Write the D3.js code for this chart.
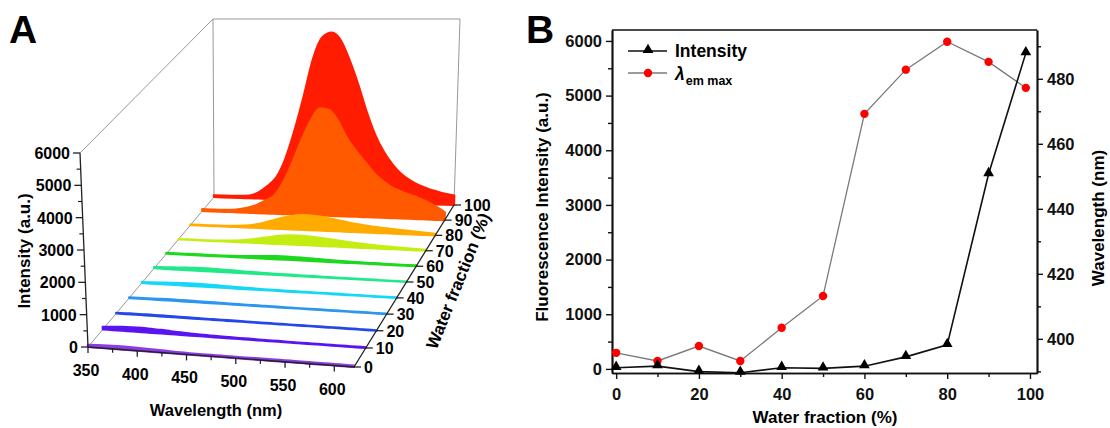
<!DOCTYPE html>
<html>
<head>
<meta charset="utf-8">
<script src="https://cdn.jsdelivr.net/npm/d3@7"></script>
<style>
body { margin: 0; background: #fff; }
svg { font-family: "Liberation Sans", Arial, sans-serif; font-weight: bold; }
</style>
</head>
<body>
<svg id="chart" width="1110" height="428"></svg>
<script>
// ---------- panel A data: emission spectra per water fraction ----------
var wavelengths = [350,360,370,380,390,400,410,420,430,440,450,460,470,480,490,500,510,520,530,540,550,560,570,580,590,600,610,620];
var waterFractions = [0,10,20,30,40,50,60,70,80,90,100];
var traceColors = ["#8c3ce6","#5a14f0","#2448e8","#2a96f0","#14d8f5","#22e88a","#1ed81e","#c4ee12","#ffab00","#ff5a00","#ff1c00"];

var spectrum0   = [70,80,90,95,95,90,80,70,60,50,45,40,40,40,40,40,40,45,45,45,45,45,45,45,45,45,45,45];
var spectrum10  = [80,100,120,130,130,120,110,90,75,60,50,45,40,35,30,30,25,25,25,20,20,20,20,20,20,20,20,20];
var spectrum20  = [20,25,30,30,30,30,30,25,25,20,20,20,20,20,15,15,15,15,15,15,15,15,15,15,15,15,15,15];
var spectrum30  = [20,25,30,35,40,40,40,35,30,30,25,25,20,20,20,20,15,15,15,15,15,15,15,15,15,15,15,15];
var spectrum40  = [30,40,50,60,70,80,80,75,65,55,45,40,35,30,30,25,25,20,20,20,20,20,15,15,15,15,15,15];
var spectrum50  = [40,50,60,70,80,90,90,80,70,60,50,45,40,35,30,30,25,25,20,20,20,20,15,15,15,15,15,15];
var spectrum60  = [30,30,30,30,30,30,30,35,45,60,75,90,100,100,95,85,75,65,55,45,40,35,30,30,25,25,25,25];
var spectrum70  = [10,10,10,10,15,25,40,70,110,160,210,260,290,300,290,270,240,210,180,150,125,105,90,75,60,50,40,30];
var spectrum80  = [20,20,20,20,25,40,60,100,170,260,350,420,470,480,460,420,370,320,270,230,200,170,150,130,110,90,70,50];
var spectrum90  = [60,60,60,70,100,160,260,420,600,1050,1700,2450,3100,3500,3450,3100,2550,2150,1800,1450,1200,1000,880,780,680,570,420,250];
var spectrum100 = [60,60,60,70,90,200,420,720,1350,2300,3450,4700,5400,5550,5300,4650,3850,2950,2200,1650,1250,950,750,600,500,420,350,300];
var spectra = [spectrum0,spectrum10,spectrum20,spectrum30,spectrum40,spectrum50,spectrum60,spectrum70,spectrum80,spectrum90,spectrum100];

var intensityTicksA = [0,1000,2000,3000,4000,5000,6000];
var intensityMinorA = [500,1500,2500,3500,4500,5500];
var wavelengthTicksA = [350,400,450,500,550,600];
var wavelengthMinorA = [375,425,475,525,575];
var waterTicksA = [0,10,20,30,40,50,60,70,80,90,100];

// ---------- panel B data ----------
var waterB = [0,10,20,30,40,50,60,70,80,90,99];
var intensityB = [20,50,-50,-70,20,10,50,220,440,3565,5777];
var lambdaB = [395.7,393.2,397.8,393.2,403.4,413.2,469.2,482.8,491.4,485.2,477.2];

var waterTicksB = [0,20,40,60,80,100];
var waterMinorB = [10,30,50,70,90];
var intensityTicksB = [0,1000,2000,3000,4000,5000,6000];
var intensityMinorB = [500,1500,2500,3500,4500,5500];
var lambdaTicksB = [400,420,440,460,480];
var lambdaMinorB = [390,410,430,450,470,490];

var svg = d3.select("#chart");

// ================= Panel A : 3D waterfall =================
var gA = svg.append("g");

//floor corners and "up" vectors (per 6000 a.u.) of the projected box
var FL = [88,347], FR = [354,367], BL = [214,197], BR = [454,205];
var upFL = [-8,-194], upFR = [-1,-202], upBL = [-1,-178], upBR = [6,-186];

var uScale = d3.scaleLinear().domain([350,620]).range([0,1]);
var tScale = d3.scalePow().exponent(0.93).domain([0,100]).range([0,1]);
var hScale = d3.scaleLinear().domain([0,6000]).range([0,1]);

function bilerp(a, b, c, d, u, t){
    var f0 = a[0] + (b[0]-a[0])*u, f1 = a[1] + (b[1]-a[1])*u;
    var k0 = c[0] + (d[0]-c[0])*u, k1 = c[1] + (d[1]-c[1])*u;
    return [f0 + (k0-f0)*t, f1 + (k1-f1)*t];
}
function proj(wl, wf, I){
    var u = uScale(wl), t = tScale(wf), h = hScale(I);
    var base = bilerp(FL, FR, BL, BR, u, t);
    var up = bilerp(upFL, upFR, upBL, upBR, u, t);
    return [base[0] + up[0]*h, base[1] + up[1]*h];
}
function seg(g, p, q, color, width){
    g.append("line")
        .attr("x1", p[0]).attr("y1", p[1])
        .attr("x2", q[0]).attr("y2", q[1])
        .attr("stroke", color).attr("stroke-width", width);
}

//walls
var wallColor = "#999";
seg(gA, proj(350,0,0), proj(350,100,0), wallColor, 1);
seg(gA, proj(350,0,6000), proj(350,100,6000), wallColor, 1);
gA.append("path")
    .attr("d", d3.line()([proj(350,100,0), proj(350,100,6000), proj(620,100,6000), proj(620,100,0)]))
    .attr("fill", "none").attr("stroke", wallColor).attr("stroke-width", 1);

//traces, drawn back to front
for( var i = waterFractions.length - 1; i >= 0; i-- ){
    (function(i){
        var wf = waterFractions[i];
        var pts = wavelengths.map(function(wl, j){ return { wl: wl, I: spectra[i][j] }; });
        var area = d3.area()
            .x0(function(d){ return proj(d.wl, wf, 0)[0]; })
            .y0(function(d){ return proj(d.wl, wf, 0)[1]; })
            .x1(function(d){ return proj(d.wl, wf, d.I)[0]; })
            .y1(function(d){ return proj(d.wl, wf, d.I)[1]; })
            .curve(d3.curveMonotoneX);
        gA.append("path")
            .attr("d", area(pts))
            .attr("fill", traceColors[i])
            .attr("stroke", traceColors[i])
            .attr("stroke-width", 2.2)
            .attr("stroke-linejoin", "round");
    })(i);
}

//intensity axis
var axisColor = "#222";
seg(gA, proj(350,0,0), proj(350,0,6000), axisColor, 1.3);
intensityTicksA.forEach(function(v){
    var p = proj(350,0,v);
    seg(gA, p, [p[0]-7, p[1]], axisColor, 1.3);
    gA.append("text").attr("x", p[0]-10).attr("y", p[1]+6)
        .attr("text-anchor", "end").attr("font-size", 16).text(v);
});
intensityMinorA.forEach(function(v){
    var p = proj(350,0,v);
    seg(gA, p, [p[0]-4, p[1]], axisColor, 1.2);
});

//wavelength axis
seg(gA, proj(350,0,0), proj(620,0,0), axisColor, 1.3);
wavelengthTicksA.forEach(function(v){
    var p = proj(v,0,0);
    seg(gA, p, [p[0], p[1]+6], axisColor, 1.3);
    gA.append("text").attr("x", p[0]-2).attr("y", p[1]+29)
        .attr("text-anchor", "middle").attr("font-size", 16).text(v);
});
wavelengthMinorA.forEach(function(v){
    var p = proj(v,0,0);
    seg(gA, p, [p[0], p[1]+4], axisColor, 1.2);
});

//water fraction axis
seg(gA, proj(620,0,0), proj(620,100,0), axisColor, 1.3);
waterTicksA.forEach(function(v){
    var p = proj(620,v,0);
    seg(gA, p, [p[0]+7, p[1]], axisColor, 1.3);
    gA.append("text").attr("x", p[0]+10).attr("y", p[1]+6)
        .attr("font-size", 16).text(v);
});

gA.append("text").attr("transform", "translate(30,251) rotate(-90)")
    .attr("text-anchor", "middle").attr("font-size", 17).text("Intensity (a.u.)");
gA.append("text").attr("x", 216).attr("y", 416)
    .attr("text-anchor", "middle").attr("font-size", 16.5).text("Wavelength (nm)");
gA.append("text").attr("transform", "translate(458,281) rotate(-68)")
    .attr("text-anchor", "middle").attr("dy", "0.35em").attr("font-size", 17).text("Water fraction (%)");

svg.append("text").attr("x", 9).attr("y", 43).attr("font-size", 39).text("A");

// ================= Panel B : dual axis line chart =================
var gB = svg.append("g");
var plotLeft = 612, plotRight = 1037, plotTop = 30, plotBottom = 373;

var xB = d3.scaleLinear().domain([-1,101.7]).range([plotLeft,plotRight]);
var yB = d3.scaleLinear().domain([-75,6200]).range([plotBottom,plotTop]);
var yR = d3.scaleLinear().domain([389.5,495]).range([plotBottom,plotTop]);

function styleAxis(g){
    g.attr("font-family", null).attr("font-size", 16.5);
    g.select(".domain").attr("stroke", "#111").attr("stroke-width", 1.7);
    g.selectAll(".tick line").attr("stroke", "#111").attr("stroke-width", 1.4);
    g.selectAll(".tick text").attr("fill", "#111");
}

gB.append("g").attr("transform", "translate(0," + plotBottom + ")")
    .call(d3.axisBottom(xB).tickValues(waterTicksB).tickFormat(d3.format("d")).tickSize(6).tickSizeOuter(0).tickPadding(9))
    .call(styleAxis);
gB.append("g").attr("transform", "translate(0," + plotBottom + ")")
    .call(d3.axisBottom(xB).tickValues(waterMinorB).tickSize(4).tickSizeOuter(0).tickFormat(""))
    .call(styleAxis);
gB.append("g").attr("transform", "translate(" + plotLeft + ",0)")
    .call(d3.axisLeft(yB).tickValues(intensityTicksB).tickFormat(d3.format("d")).tickSize(6).tickSizeOuter(0).tickPadding(4))
    .call(styleAxis);
gB.append("g").attr("transform", "translate(" + plotLeft + ",0)")
    .call(d3.axisLeft(yB).tickValues(intensityMinorB).tickSize(4).tickSizeOuter(0).tickFormat(""))
    .call(styleAxis);
gB.append("g").attr("transform", "translate(" + plotRight + ",0)")
    .call(d3.axisRight(yR).tickValues(lambdaTicksB).tickFormat(d3.format("d")).tickSize(6).tickSizeOuter(0).tickPadding(4))
    .call(styleAxis);
gB.append("g").attr("transform", "translate(" + plotRight + ",0)")
    .call(d3.axisRight(yR).tickValues(lambdaMinorB).tickSize(4).tickSizeOuter(0).tickFormat(""))
    .call(styleAxis);
seg(gB, [plotLeft, plotTop], [plotRight, plotTop], "#111", 1.7);

//lambda em max series
var lambdaLine = d3.line()
    .x(function(d, i){ return xB(waterB[i]); })
    .y(function(d){ return yR(d); });
gB.append("path").attr("d", lambdaLine(lambdaB))
    .attr("fill", "none").attr("stroke", "#7a7a7a").attr("stroke-width", 1.3);
gB.selectAll(".lam").data(lambdaB).enter().append("circle")
    .attr("cx", function(d, i){ return xB(waterB[i]); })
    .attr("cy", function(d){ return yR(d); })
    .attr("r", 4.2).attr("fill", "#ff0000");

//intensity series
var intLine = d3.line()
    .x(function(d, i){ return xB(waterB[i]); })
    .y(function(d){ return yB(d); });
gB.append("path").attr("d", intLine(intensityB))
    .attr("fill", "none").attr("stroke", "#111").attr("stroke-width", 1.6);
var tri = d3.symbol().type(d3.symbolTriangle).size(50);
gB.selectAll(".int").data(intensityB).enter().append("path")
    .attr("d", tri)
    .attr("transform", function(d, i){ return "translate(" + xB(waterB[i]) + "," + (yB(d)-1) + ")"; })
    .attr("fill", "#000");

//legend
seg(gB, [628,51], [667,51], "#111", 1.6);
gB.append("path").attr("d", tri).attr("transform", "translate(648,50)").attr("fill", "#000");
gB.append("text").attr("x", 675).attr("y", 57).attr("font-size", 17.5).text("Intensity");
seg(gB, [628,73], [667,73], "#7a7a7a", 1.3);
gB.append("circle").attr("cx", 648).attr("cy", 73).attr("r", 4.2).attr("fill", "#ff0000");
var lam = gB.append("text").attr("x", 675).attr("y", 80).attr("font-size", 17.5);
lam.append("tspan").attr("font-style", "italic").text("λ");
lam.append("tspan").attr("font-size", 12.5).attr("dy", 5).attr("dx", 1).text("em max");

//axis titles
gB.append("text").attr("transform", "translate(548,207) rotate(-90)")
    .attr("text-anchor", "middle").attr("font-size", 17).text("Fluorescence Intensity (a.u.)");
gB.append("text").attr("x", 825).attr("y", 423)
    .attr("text-anchor", "middle").attr("font-size", 17).text("Water fraction (%)");
gB.append("text").attr("transform", "translate(1104,218) rotate(-90)")
    .attr("text-anchor", "middle").attr("font-size", 17).text("Wavelength (nm)");

svg.append("text").attr("x", 526).attr("y", 43).attr("font-size", 39).text("B");
</script>
</body>
</html>
